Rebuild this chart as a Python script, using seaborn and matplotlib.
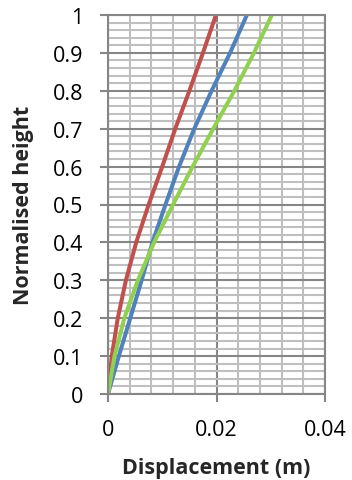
import matplotlib
matplotlib.use("Agg")
import matplotlib.pyplot as plt
import seaborn as sns
import pandas as pd
import numpy as np

heights = [0.0, 0.1, 0.2, 0.3, 0.4, 0.5, 0.6, 0.7, 0.8, 0.9, 1.0]
disp_red = [0.0, 0.0007, 0.0018, 0.0033, 0.0052, 0.0075, 0.0100, 0.0124, 0.0150, 0.0175, 0.0199]
disp_blue = [0.0, 0.0020, 0.0041, 0.0062, 0.0082, 0.0106, 0.0131, 0.0159, 0.0191, 0.0225, 0.0256]
disp_green = [0.0, 0.0012, 0.0030, 0.0055, 0.0085, 0.0120, 0.0156, 0.0194, 0.0233, 0.0269, 0.0302]
y_tick_labels = ["0", "0.1", "0.2", "0.3", "0.4", "0.5", "0.6", "0.7", "0.8", "0.9", "1"]
x_ticks = [0, 0.02, 0.04]
x_tick_labels = ["0", "0.02", "0.04"]

series = {"red": disp_red, "blue": disp_blue, "green": disp_green}
colors = {"red": "#C0504D", "blue": "#4F81BD", "green": "#92D050"}

rows = []
for name, vals in series.items():
    for h, d in zip(heights, vals):
        rows.append({"series": name, "height": h, "disp": d})
df = pd.DataFrame(rows)

sns.set_theme(style="white")
plt.rcParams['font.family'] = ['Open Sans', 'DejaVu Sans']

fig = plt.figure(figsize=(3.52, 4.81), dpi=100)
ax = fig.add_axes([108/352, 1-395/481, (325-108)/352, (395-16)/481])

ax.set_xlim(0, 0.04)
ax.set_ylim(0, 1)
ax.set_xticks(x_ticks)
ax.set_xticklabels(x_tick_labels)
ax.set_yticks(heights)
ax.set_yticklabels(y_tick_labels)
ax.set_xticks(np.arange(0, 0.0401, 0.004), minor=True)
ax.set_yticks(np.arange(0, 1.001, 0.02), minor=True)

ax.grid(which="minor", color="#BFBFBF", linewidth=1.5)
ax.grid(which="major", color="#868686", linewidth=1.5)
ax.set_axisbelow(True)

sns.lineplot(data=df, x="disp", y="height", hue="series", palette=colors,
             sort=False, estimator=None, linewidth=2.9, legend=False, ax=ax)
for ln in ax.lines:
    ln.set_solid_joinstyle("round")
    ln.set_solid_capstyle("butt")

for s in ax.spines.values():
    s.set_color("#868686")
    s.set_linewidth(1.5)

ax.tick_params(which="major", direction="out", length=6, width=1.5, color="#868686",
               labelsize=15.5, labelcolor="black", left=True, bottom=True)
ax.tick_params(axis="y", which="major", pad=12)
ax.tick_params(axis="x", which="major", pad=12)
ax.tick_params(which="minor", length=0)

ax.set_xlabel("Displacement (m)", fontsize=15.5, fontweight="bold")
ax.set_ylabel("Normalised height", fontsize=15.5, fontweight="bold")
ax.xaxis.set_label_coords(0.5, (395-479)/379)
ax.xaxis.label.set_va("bottom")
ax.yaxis.set_label_coords((34-108)/217, 0.5)

fig.savefig("out.png", dpi=100)
